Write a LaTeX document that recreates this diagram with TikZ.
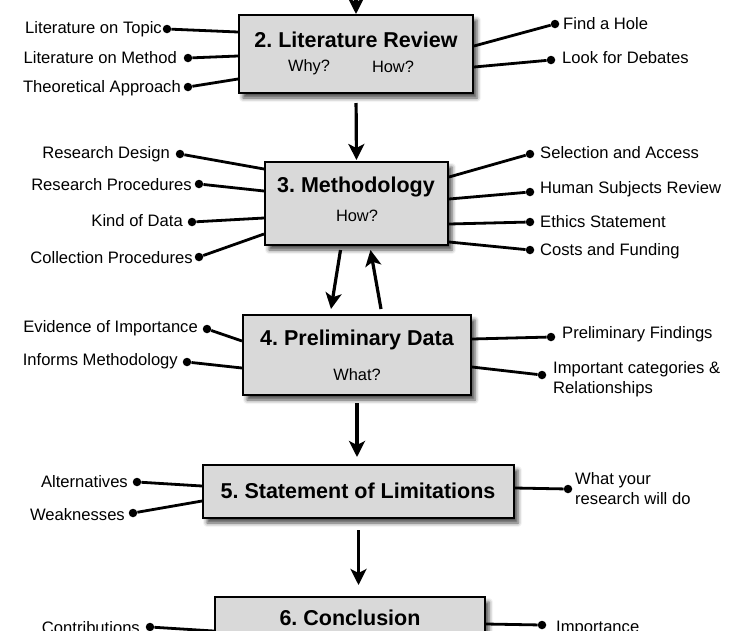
\documentclass[tikz,border=0pt]{standalone}
\usepackage{fontspec}
\setmainfont{Liberation Sans}
\usetikzlibrary{arrows.meta,calc,shadows.blur}
\definecolor{boxgray}{HTML}{D9D9D9}
\frenchspacing
\begin{document}
\begin{tikzpicture}[x=1pt,y=-1pt,
  box/.style={draw=black, line width=2pt, fill=boxgray, inner sep=0pt,
    blur shadow={shadow xshift=4pt, shadow yshift=-5pt, shadow blur radius=4pt, shadow opacity=70}},
  ttl/.style={font=\fontsize{21.5}{25}\selectfont\bfseries\frenchspacing, inner sep=0pt},
  sub/.style={font=\fontsize{16.4}{20}\selectfont, inner sep=0pt},
  lbl/.style={font=\fontsize{16.6}{20}\selectfont, inner sep=0pt, align=left},
  dotnode/.style={circle, fill=black, inner sep=0pt, minimum size=8.5pt},
  conn/.style={line width=2.8pt},
  arr/.style={line width=3.2pt, -{Stealth[length=16pt,width=16pt,inset=4pt]}}]
\useasboundingbox (0,0) rectangle (736,630);

% boxes
\node[box, minimum width=234pt, minimum height=78pt] (b2) at (356,54) {};
\node[box, minimum width=183pt, minimum height=83pt] (b3) at (356.5,203.5) {};
\node[box, minimum width=228pt, minimum height=80pt] (b4) at (357,355) {};
\node[box, minimum width=311pt, minimum height=53pt] (b5) at (358.5,491.5) {};
\node[box, minimum width=270pt, minimum height=80pt] (b6) at (350,637) {};

% box texts
\node[ttl] (t2) at (356,40) {2. Literature Review};
\node[sub] (s2a) at (309,67) {Why?};
\node[sub] (s2b) at (393,67) {How?};
\node[ttl] (t3) at (356,187) {3. Methodology};
\node[sub] (s3) at (357,216) {How?};
\node[ttl] (t4) at (357,340) {4. Preliminary Data};
\node[sub] (s4) at (357,375) {What?};
\node[ttl] (t5) at (358,491) {5. Statement of Limitations};
\node[ttl] (t6) at (350,618) {6. Conclusion};

% main arrows
\coordinate (top) at (356,-8);
\draw[arr] (top) -- (b2.north);
\draw[arr, shorten <=9pt, shorten >=1pt] (b2.south) -- (b3.north);
\draw[arr] ($(b3.south)+(-16,4)$) -- ($(b4.north)+(-26,-5)$);
\draw[arr] ($(b4.north)+(24,-5)$) -- ($(b3.south)+(14,4)$);
\draw[arr, shorten <=7pt, shorten >=7pt] (b4.south) -- (b4.south |- b5.north);
\draw[arr, shorten <=11pt, shorten >=11pt] (b5.south) -- (b5.south |- b6.north);

% ---- box 2 left
\node[dotnode] (l21) at (167,29) {};
\node[lbl, anchor=east] (tl21) at (162,29) {Literature on Topic};
\draw[conn] (l21) -- ($(b2.north west)+(0,18)$);
\node[dotnode] (l22) at (188,58) {};
\node[lbl, anchor=east] (tl22) at (177,58) {Literature on Method};
\draw[conn] (l22) -- ($(b2.north west)+(0,42)$);
\node[dotnode] (l23) at (188,87) {};
\node[lbl, anchor=east] (tl23) at (181,88) {Theoretical Approach};
\draw[conn] (l23) -- ($(b2.north west)+(0,65)$);
% box 2 right
\node[dotnode] (r21) at (555,24) {};
\node[lbl, anchor=west] (tr21) at (563,24) {Find a Hole};
\draw[conn] (r21) -- ($(b2.north east)+(0,32)$);
\node[dotnode] (r22) at (551,60) {};
\node[lbl, anchor=west] (tr22) at (562,58) {Look for Debates};
\draw[conn] (r22) -- ($(b2.north east)+(0,53)$);

% ---- box 3 left
\node[dotnode] (l31) at (180,154) {};
\node[lbl, anchor=east] (tl31) at (170,154) {Research Design};
\draw[conn] (l31) -- ($(b3.north west)+(0,8)$);
\node[dotnode] (l32) at (199,184) {};
\node[lbl, anchor=east] (tl32) at (192,185) {Research Procedures};
\draw[conn] (l32) -- ($(b3.north west)+(0,30)$);
\node[dotnode] (l33) at (192,222) {};
\node[lbl, anchor=east] (tl33) at (183,221) {Kind of Data};
\draw[conn] (l33) -- ($(b3.north west)+(0,57)$);
\node[dotnode] (l34) at (199,257) {};
\node[lbl, anchor=east] (tl34) at (193,258) {Collection Procedures};
\draw[conn] (l34) -- ($(b3.north west)+(0,73)$);
% box 3 right
\node[dotnode] (r31) at (530,154) {};
\node[lbl, anchor=west] (tr31) at (540,153) {Selection and Access};
\draw[conn] (r31) -- ($(b3.north east)+(0,16)$);
\node[dotnode] (r32) at (530,192) {};
\node[lbl, anchor=west] (tr32) at (540,189) {Human Subjects Review};
\draw[conn] (r32) -- ($(b3.north east)+(0,38)$);
\node[dotnode] (r33) at (530,222) {};
\node[lbl, anchor=west] (tr33) at (540,222) {Ethics Statement};
\draw[conn] (r33) -- ($(b3.north east)+(0,63)$);
\node[dotnode] (r34) at (530,250) {};
\node[lbl, anchor=west] (tr34) at (540,251) {Costs and Funding};
\draw[conn] (r34) -- ($(b3.north east)+(0,81)$);

% ---- box 4 left
\node[dotnode] (l41) at (207,329) {};
\node[lbl, anchor=east] (tl41) at (198,328) {Evidence of Importance};
\draw[conn] (l41) -- ($(b4.north west)+(0,27)$);
\node[dotnode] (l42) at (187,362) {};
\node[lbl, anchor=east] (tl42) at (178,361) {Informs Methodology};
\draw[conn] (l42) -- ($(b4.north west)+(0,54)$);
% box 4 right
\node[dotnode] (r41) at (551,337) {};
\node[lbl, anchor=west] (tr41) at (562,334) {Preliminary Findings};
\draw[conn] (r41) -- ($(b4.north east)+(0,25)$);
\node[dotnode] (r42) at (542,375) {};
\node[lbl, anchor=west] (tr42) at (553,379) {Important categories \&\\Relationships};
\draw[conn] (r42) -- ($(b4.north east)+(0,53)$);

% ---- box 5
\node[dotnode] (l51) at (137,482) {};
\node[lbl, anchor=east] (tl51) at (128,482) {Alternatives};
\draw[conn] (l51) -- ($(b5.north west)+(0,22)$);
\node[dotnode] (l52) at (133,513) {};
\node[lbl, anchor=east] (tl52) at (125,515) {Weaknesses};
\draw[conn] (l52) -- ($(b5.north west)+(0,37)$);
\node[dotnode] (r51) at (568,489) {};
\node[lbl, anchor=west] (tr51) at (575,489) {What your\\research will do};
\draw[conn] (r51) -- ($(b5.north east)+(0,24)$);

% ---- box 6
\node[dotnode] (l61) at (150,627) {};
\node[lbl, anchor=east] (tl61) at (140,628) {Contributions};
\draw[conn] (l61) -- ($(b6.north west)+(0,35)$);
\node[dotnode] (r61) at (542,625) {};
\node[lbl, anchor=west] (tr61) at (556,628) {Importance};
\draw[conn] (r61) -- ($(b6.north east)+(0,28)$);
\end{tikzpicture}
\end{document}
